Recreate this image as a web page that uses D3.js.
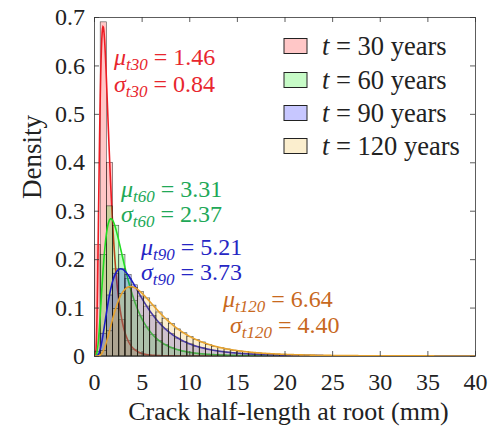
<!DOCTYPE html>
<html><head><meta charset="utf-8">
<script src="https://cdn.jsdelivr.net/npm/d3@7"></script>
<style>body{margin:0;background:#fff}svg{display:block}</style>
</head><body>
<svg id="c" width="494" height="428"></svg>
<script>
// ---- data ----
const binWidth = 0.65;
const xTicks = [0, 5, 10, 15, 20, 25, 30, 35, 40];
const yTicks = [0, 0.1, 0.2, 0.3, 0.4, 0.5, 0.6, 0.7];
const seriesNames = ["30", "60", "90", "120"];
const fitMu = [1.46, 3.31, 5.21, 6.64];
const fitSigma = [0.84, 2.37, 3.73, 4.40];
const hist30 = [0.23, 0.69, 0.40, 0.18, 0.075, 0.032, 0.014, 0.006, 0.003, 0.0015];
const hist60 = [0.01, 0.21, 0.31, 0.27, 0.21, 0.16, 0.115, 0.083, 0.06, 0.044, 0.032, 0.024, 0.017, 0.013, 0.01, 0.0075, 0.0057, 0.0044, 0.0034, 0.0027, 0.0021, 0.0017, 0.0013, 0.001, 0.0008, 0.0006, 0.0005, 0.0004, 0.0003, 0.0003, 0.0002];
const hist90 = [0.001, 0.047, 0.126, 0.171, 0.180, 0.168, 0.147, 0.124, 0.103, 0.084, 0.069, 0.056, 0.046, 0.037, 0.030, 0.025, 0.020, 0.017, 0.014, 0.011, 0.0095, 0.008, 0.0066, 0.0055, 0.0047, 0.0039, 0.0033, 0.0028, 0.0024, 0.0021, 0.0018, 0.0015, 0.0013, 0.0011, 0.001, 0.0008, 0.0007, 0.0006, 0.0005, 0.0004, 0.0003];
const hist120 = [0, 0.011, 0.052, 0.098, 0.129, 0.142, 0.142, 0.133, 0.120, 0.105, 0.091, 0.078, 0.067, 0.056, 0.048, 0.040, 0.034, 0.029, 0.024, 0.020, 0.017, 0.0145, 0.012, 0.0105, 0.009, 0.0076, 0.0065, 0.0056, 0.0048, 0.0041, 0.0036, 0.0031, 0.0027, 0.0023, 0.002, 0.0018, 0.0016, 0.0014, 0.0012, 0.0011, 0.001, 0.0009, 0.0008, 0.0007, 0.0006, 0.0006, 0.0005, 0.0005, 0.0004, 0.0004, 0.0004, 0.0003];
const hists = [hist30, hist60, hist90, hist120];

// ---- style ----
const FONT = "Liberation Serif";
const fillCols = ["#ff0000", "#00ee00", "#0000ff", "#eeb020"];
const lineCols = ["#ee1c24", "#22dd22", "#1c1cc8", "#e6a22e"];
const textCols = ["#e8262e", "#21a857", "#2626c4", "#c8691e"];

const svg = d3.select("#c");
const L = 94, R = 475, T = 17, B = 356;
const x = d3.scaleLinear().domain([0, 40]).range([L, R]);
const y = d3.scaleLinear().domain([0, 0.7]).range([B, T]);

svg.append("clipPath").attr("id", "clipP").append("rect").attr("x", L).attr("y", T).attr("width", R - L).attr("height", B - T);
const plot = svg.append("g").attr("clip-path", "url(#clipP)");

function lognPdf(v, m, s) {
  const s2 = Math.log(1 + (s * s) / (m * m));
  const mu = Math.log(m) - s2 / 2;
  return Math.exp(-Math.pow(Math.log(v) - mu, 2) / (2 * s2)) / (v * Math.sqrt(2 * Math.PI * s2));
}
const xs = d3.range(0.02, 40.01, 0.04);

hists.forEach((h, i) => {
  plot.append("g").selectAll("rect").data(h).join("rect")
    .attr("x", (d, k) => x(k * binWidth))
    .attr("width", x(binWidth) - x(0))
    .attr("y", d => y(d))
    .attr("height", d => y(0) - y(d))
    .attr("fill", fillCols[i]).attr("fill-opacity", 0.22)
    .attr("stroke", "#111").attr("stroke-opacity", 0.75).attr("stroke-width", 0.6);
  const line = d3.line().x(v => x(v)).y(v => y(lognPdf(v, fitMu[i], fitSigma[i])));
  plot.append("path").datum(xs).attr("d", line).attr("fill", "none")
    .attr("stroke", lineCols[i]).attr("stroke-width", 1.6);
});

// ---- axes ----
const axCol = "#333";
const fmtY = d => d === 0 ? "0" : d3.format(".1f")(d);
const gx = svg.append("g").attr("transform", `translate(0,${B})`)
  .call(d3.axisBottom(x).tickValues(xTicks).tickSizeInner(-5).tickSizeOuter(0).tickPadding(17).tickFormat(d3.format("d")));
const gy = svg.append("g").attr("transform", `translate(${L},0)`)
  .call(d3.axisLeft(y).tickValues(yTicks).tickSizeInner(-5).tickSizeOuter(0).tickPadding(9).tickFormat(fmtY));
const gt = svg.append("g").attr("transform", `translate(0,${T})`)
  .call(d3.axisTop(x).tickValues(xTicks).tickSizeInner(-5).tickSizeOuter(0).tickFormat(""));
const gr = svg.append("g").attr("transform", `translate(${R},0)`)
  .call(d3.axisRight(y).tickValues(yTicks).tickSizeInner(-5).tickSizeOuter(0).tickFormat(""));
[gx, gy, gt, gr].forEach(g => {
  g.attr("font-family", FONT).attr("font-size", 24);
  g.select(".domain").attr("stroke", axCol).attr("stroke-width", 0.8);
  g.selectAll(".tick line").attr("stroke", axCol).attr("stroke-width", 0.8);
  g.selectAll("text").attr("fill", "#222");
});

function txt(xp, yp, s, size, col, italic) {
  return svg.append("text").attr("x", xp).attr("y", yp).attr("font-family", FONT)
    .attr("font-size", size).attr("font-style", italic ? "italic" : "normal").attr("fill", col).text(s);
}
// write a run of pieces left to right; each piece: [text, size, italic, dy]
function run(xp, yp, pieces, col) {
  let cx = xp;
  pieces.forEach(([s, size, it, dy]) => {
    const t = txt(cx, yp + (dy || 0), s, size, col, it).style("white-space", "pre");
    cx += t.node().getComputedTextLength();
  });
}

svg.append("text").attr("x", (L + R) / 2 + 4).attr("y", 420).attr("text-anchor", "middle")
  .attr("font-family", FONT).attr("font-size", 26).attr("fill", "#222").text("Crack half-length at root (mm)");
svg.append("text").attr("transform", "translate(41,157) rotate(-90)").attr("text-anchor", "middle")
  .attr("font-family", FONT).attr("font-size", 27).attr("fill", "#222").text("Density");

// ---- legend ----
const legY = [46, 80, 113, 146];
seriesNames.forEach((n, i) => {
  svg.append("rect").attr("x", 284).attr("y", legY[i] - 7.5).attr("width", 23).attr("height", 15)
    .attr("fill", fillCols[i]).attr("fill-opacity", 0.22).attr("stroke", "#222").attr("stroke-width", 1);
  run(322, legY[i] + 8.5, [["t", 26.5, true], [" = " + n + " years", 26.5, false]], "#222");
});

// ---- annotations ----
const annX = [114, 121, 141, 223];
const annY = [65, 197, 255, 307];
const annSX = [114, 121, 141, 230];
const annSY = [92, 222, 280, 333];
seriesNames.forEach((n, i) => {
  run(annX[i], annY[i], [["μ", 24, true], ["t" + n, 17, true, 5], [" = " + fitMu[i].toFixed(2), 24, false]], textCols[i]);
  run(annSX[i], annSY[i], [["σ", 24, true], ["t" + n, 17, true, 5], [" = " + fitSigma[i].toFixed(2), 24, false]], textCols[i]);
});
</script>
</body></html>
